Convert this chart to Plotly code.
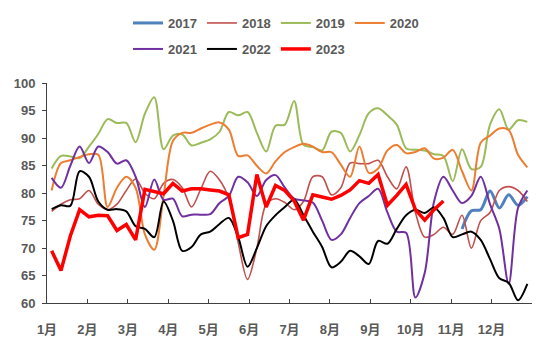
import plotly.graph_objects as go

weeks = list(range(1, 53))
month_labels = ["1月", "2月", "3月", "4月", "5月", "6月", "7月", "8月", "9月", "10月", "11月", "12月"]

s2017 = [73.5, 76.8, 77.0, 80.4, 77.3, 79.7, 77.8, 79.4]  # weeks 45-52
s2018 = [76.7, 78.0, 78.8, 79.0, 80.5, 78.0, 77.0, 78.0, 80.5, 82.6,
         80.0, 79.0, 81.8, 82.5, 81.0, 77.5, 80.8, 84.0, 82.4, 79.0,
         71.0, 64.3, 70.0, 78.0, 79.0, 78.3, 77.0, 78.5, 83.0, 83.0,
         79.7, 81.0, 85.5, 85.4, 85.4, 86.0, 83.0, 80.8, 84.8, 76.5,
         72.0, 72.5, 73.8, 72.5, 76.0, 70.0, 75.0, 76.5, 80.5, 81.2,
         80.5, 78.5]
s2019 = [84.5, 86.8, 86.7, 86.4, 88.5, 90.8, 93.5, 92.8, 92.8, 89.3,
         94.5, 97.5, 88.0, 90.5, 90.7, 88.7, 89.2, 89.8, 91.2, 94.8,
         94.2, 94.8, 91.0, 87.6, 92.3, 92.5, 96.8, 88.8, 88.4, 87.8,
         91.2, 91.0, 87.6, 90.6, 94.6, 95.5, 94.2, 92.5, 88.2, 87.9,
         87.8, 87.1, 86.8, 82.2, 88.0, 84.4, 84.8, 92.5, 95.3, 91.6,
         93.3, 93.0]
s2020 = [80.5, 85.5, 86.0, 86.6, 87.1, 87.0, 77.5, 81.0, 83.0, 81.0,
         72.5, 69.7, 79.5, 89.5, 91.0, 91.0, 91.8, 92.5, 92.9, 91.6,
         86.8, 86.9, 85.0, 83.6, 85.8, 87.5, 88.4, 89.0, 88.5, 87.5,
         87.5, 85.2, 83.0, 88.5, 83.7, 84.5, 87.8, 88.8, 87.3, 87.5,
         88.2, 86.3, 86.5, 87.9, 84.0, 80.5, 89.2, 90.5, 91.8, 91.5,
         87.0, 84.7]
s2021 = [82.8, 81.0, 85.0, 88.5, 85.5, 88.5, 87.5, 85.4, 86.0, 83.0,
         77.5, 82.5, 78.8, 79.0, 75.8, 76.1, 76.1, 76.2, 78.2, 79.5,
         83.0, 82.0, 79.5, 82.4, 83.3, 81.0, 79.0, 78.7, 78.3, 75.0,
         71.5, 72.5, 75.5, 78.2, 79.5, 80.8, 76.5, 73.0, 72.8, 61.0,
         65.5, 78.5, 83.0, 80.5, 78.2, 79.5, 83.0, 78.0, 73.5, 63.5,
         77.3, 80.5]
s2022 = [77.1, 77.8, 77.7, 84.0, 83.0, 78.5, 77.0, 77.1, 76.7, 74.0,
         73.5, 72.0, 78.5, 75.0, 69.5, 70.2, 72.5, 73.0, 74.4, 75.5,
         72.0, 66.6, 70.0, 74.0, 76.0, 77.5, 78.8, 76.0, 73.0, 70.2,
         66.5, 67.5, 69.5, 68.5, 67.1, 71.3, 70.8, 73.5, 76.0, 77.0,
         76.4, 77.4, 75.5, 72.0, 72.5, 73.0, 71.5, 68.0, 64.5, 63.7,
         60.5, 63.5]
s2023 = [69.5, 65.9, 72.2, 77.0, 75.7, 76.0, 75.9, 73.2, 74.3, 71.5,
         80.7, 80.3, 79.9, 81.8, 80.4, 80.8, 80.8, 80.6, 80.4, 79.7,
         71.9, 72.5, 83.4, 77.5, 81.4, 80.5, 78.6, 75.1, 79.7, 79.3,
         78.9, 79.6, 80.6, 82.3, 81.8, 83.4, 77.8, 79.6, 81.6, 77.0,
         75.1, 77.0, 78.6]

series = [
    ("2017", weeks[44:], s2017, "#4F81BD", 3.0, "spline", "legend"),
    ("2018", weeks, s2018, "#C0504D", 1.6, "spline", "legend"),
    ("2019", weeks, s2019, "#9BBB59", 2.0, "spline", "legend"),
    ("2020", weeks, s2020, "#ED7D31", 2.0, "spline", "legend"),
    ("2021", weeks, s2021, "#7030A0", 2.0, "spline", "legend2"),
    ("2022", weeks, s2022, "#000000", 2.0, "spline", "legend2"),
    ("2023", weeks[:len(s2023)], s2023, "#FF0000", 3.5, "linear", "legend2"),
]

FONT = "Liberation Sans, Arial, Noto Sans CJK SC, sans-serif"
TXT = "#595959"

fig = go.Figure()
for name, xs, ys, color, width, shape, lg in series:
    line = dict(color=color, width=width, shape=shape)
    if shape == "spline":
        line["smoothing"] = 0.9
    fig.add_trace(go.Scatter(x=xs, y=ys, mode="lines", name=name, line=line,
                             legend=lg, hoverinfo="skip"))

step = 52 / 12
tickvals = [0.5 + k * step for k in range(13)]
ticktext = month_labels + [""]

fig.update_layout(
    width=550, height=350,
    margin=dict(l=47, r=18, t=79, b=47),
    paper_bgcolor="white", plot_bgcolor="white",
    font=dict(family=FONT, size=13, color=TXT, weight="bold"),
    legend=dict(orientation="h", xref="container", yref="container",
                x=128 / 550, y=1 - 23 / 350, xanchor="left", yanchor="middle",
                font=dict(family=FONT, size=13, color=TXT, weight="bold"),
                bgcolor="rgba(0,0,0,0)", itemclick=False, tracegroupgap=0),
    legend2=dict(orientation="h", xref="container", yref="container",
                 x=128 / 550, y=1 - 49 / 350, xanchor="left", yanchor="middle",
                 font=dict(family=FONT, size=13, color=TXT, weight="bold"),
                 bgcolor="rgba(0,0,0,0)", itemclick=False, tracegroupgap=0),
    xaxis=dict(range=[0.5, 52.5], tickmode="array", tickvals=tickvals, ticktext=ticktext,
               showgrid=False, zeroline=False, showline=True, linecolor="#404040", linewidth=1,
               ticks="inside", ticklen=4, tickcolor="#404040",
               tickfont=dict(family=FONT, size=13, color=TXT, weight="bold"),
               ticklabelstandoff=14),
    yaxis=dict(range=[60, 100], tickmode="linear", tick0=60, dtick=5,
               showgrid=False, zeroline=False, showline=True, linecolor="#404040", linewidth=1,
               ticks="outside", ticklen=4, tickcolor="#404040",
               tickfont=dict(family=FONT, size=13, color=TXT, weight="bold"),
               ticklabelstandoff=4),
)

fig.write_html("out.html")
